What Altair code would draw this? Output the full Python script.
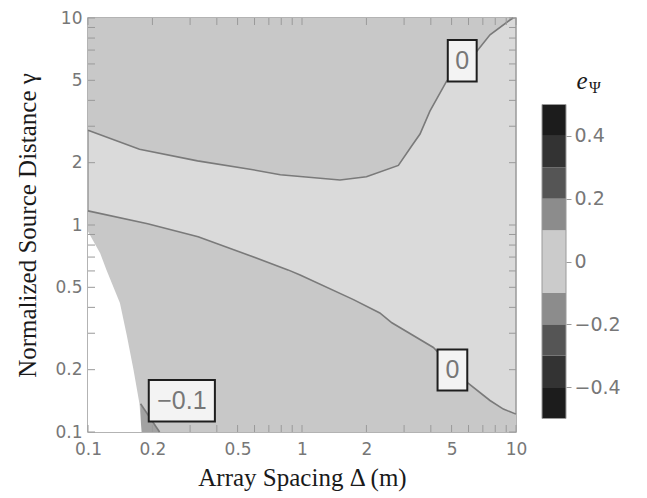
import altair as alt
import pandas as pd

# ---------------- data ----------------
x_ticks = [0.1, 0.2, 0.5, 1, 2, 5, 10]
y_ticks = [0.1, 0.2, 0.5, 1, 2, 5, 10]
minor_ticks = [0.1, 0.2, 0.3, 0.4, 0.5, 0.6, 0.7, 0.8, 0.9,
               1, 2, 3, 4, 5, 6, 7, 8, 9, 10]

# upper zero contour
upper0_x = [0.1, 0.174, 0.325, 0.571, 0.792, 1.505, 2.0, 2.82, 3.29, 3.56,
            3.96, 4.74, 6.55, 7.56, 9.37, 9.7]
upper0_y = [2.87, 2.32, 2.04, 1.86, 1.75, 1.65, 1.71, 1.94, 2.45, 2.75,
            3.55, 4.95, 6.89, 8.29, 9.78, 10]

# lower zero contour
lower0_x = [0.1, 0.19, 0.327, 0.56, 0.86, 0.98, 1.74, 2.31, 2.63, 4.11,
            5.89, 7.56, 8.73, 10]
lower0_y = [1.17, 1.015, 0.878, 0.716, 0.607, 0.574, 0.436, 0.376, 0.337,
            0.256, 0.174, 0.142, 0.129, 0.122]

# edge of the empty (white) region
white_x = [0.1, 0.114, 0.122, 0.141, 0.152, 0.163, 0.174, 0.178]
white_y = [0.93, 0.73, 0.607, 0.42, 0.291, 0.201, 0.137, 0.1]

# -0.1 contour
neg01_x = [0.176, 0.216]
neg01_y = [0.137, 0.1]

# contour labels
label_text = ["0", "0", "\u22120.1"]
label_x = [5.61, 5.05, 0.2745]
label_y = [6.21, 0.1993, 0.1416]
label_x_lo = [4.80, 4.30, 0.1923]
label_x_hi = [6.55, 5.92, 0.3917]
label_y_lo = [4.93, 0.1585, 0.1125]
label_y_hi = [7.82, 0.2507, 0.1782]

# colour bar
cbar_lo = [-0.5, -0.4, -0.3, -0.2, -0.1, 0.1, 0.2, 0.3, 0.4]
cbar_hi = [-0.4, -0.3, -0.2, -0.1, 0.1, 0.2, 0.3, 0.4, 0.5]
cbar_colors = ["#1c1c1c", "#333333", "#555555", "#8c8c8c", "#cbcbcb",
               "#8c8c8c", "#555555", "#333333", "#1c1c1c"]
cbar_labels = [-0.4, -0.2, 0, 0.2, 0.4]
cbar_title = ["e", "\u03a8"]

# ---------------- styling ----------------
LIGHT = "#dadada"
MID = "#c8c8c8"
DARK = "#a2a2a2"
LINE = "#7a7a7a"
TICK = "#9a9a9a"
LABEL = "#777777"

xs = alt.Scale(type="log", domain=[0.1, 10], nice=False)
ys = alt.Scale(type="log", domain=[0.1, 10], nice=False)

x_axis = alt.Axis(title="Array Spacing \u0394 (m)", values=x_ticks, format="~g",
                  ticks=False, tickSize=0, domain=False, grid=False,
                  labelFont="DejaVu Sans", labelFontSize=17, labelColor=LABEL,
                  labelPadding=9, labelFlush=False, labelOverlap=False,
                  titleFont="Liberation Serif", titleFontSize=25,
                  titleFontWeight="normal", titleColor="#1a1a1a", titlePadding=8)
y_axis = alt.Axis(title="Normalized Source Distance \u03b3", values=y_ticks, format="~g",
                  ticks=False, tickSize=0, domain=False, grid=False,
                  labelFont="DejaVu Sans", labelFontSize=17, labelColor=LABEL,
                  labelPadding=6, labelFlush=False, labelOverlap=False,
                  titleFont="Liberation Serif", titleFontSize=25,
                  titleFontWeight="normal", titleColor="#1a1a1a", titlePadding=14)


def X(field):
    return alt.X(field, type="quantitative", scale=xs, axis=x_axis)


def Y(field):
    return alt.Y(field, type="quantitative", scale=ys, axis=y_axis)


def XD(v):
    return alt.X(datum=v, scale=xs, axis=x_axis)


def YD(v):
    return alt.Y(datum=v, scale=ys, axis=y_axis)


upper_df = pd.DataFrame({"x": upper0_x, "y": upper0_y})
lower_df = pd.DataFrame({"x": lower0_x, "y": lower0_y})
white_df = pd.DataFrame({"x": white_x, "y": white_y})
neg_df = pd.DataFrame({"x": neg01_x, "y": neg01_y})
lab_df = pd.DataFrame({"t": label_text, "x": label_x, "y": label_y,
                       "x0": label_x_lo, "x1": label_x_hi,
                       "y0": label_y_lo, "y1": label_y_hi})
tick_df = pd.DataFrame({"x": minor_ticks, "y": minor_ticks})

upper_area = alt.Chart(upper_df).mark_area(color=MID).encode(
    x=X("x"), y=Y("y"), y2=alt.datum(10))
lower_area = alt.Chart(lower_df).mark_area(color=MID).encode(
    x=X("x"), y=Y("y"), y2=alt.datum(0.1))
neg_area = alt.Chart(neg_df).mark_area(color=DARK).encode(
    x=X("x"), y=Y("y"), y2=alt.datum(0.1))
white_area = alt.Chart(white_df).mark_area(color="#ffffff").encode(
    x=X("x"), y=Y("y"), y2=alt.datum(0.1))

upper_line = alt.Chart(upper_df).mark_line(color=LINE, strokeWidth=1.6).encode(
    x=X("x"), y=Y("y"))
lower_line = alt.Chart(lower_df).mark_line(color=LINE, strokeWidth=1.6).encode(
    x=X("x"), y=Y("y"))
neg_line = alt.Chart(neg_df).mark_line(color=LINE, strokeWidth=1.6).encode(
    x=X("x"), y=Y("y"))

boxes = alt.Chart(lab_df).mark_rect(fill="#f3f3f3", stroke="#1e1e1e", strokeWidth=2).encode(
    x=X("x0"), x2="x1", y=Y("y0"), y2="y1")
texts = alt.Chart(lab_df).mark_text(font="Liberation Sans", fontSize=25, color=LABEL).encode(
    x=X("x"), y=Y("y"), text="t")

tick_bottom = alt.Chart(tick_df).mark_rule(color=TICK, strokeWidth=1, y2Offset=-7).encode(
    x=X("x"), y=YD(0.1), y2=alt.datum(0.1))
tick_top = alt.Chart(tick_df).mark_rule(color=TICK, strokeWidth=1, y2Offset=7).encode(
    x=X("x"), y=YD(10), y2=alt.datum(10))
tick_left = alt.Chart(tick_df).mark_rule(color=TICK, strokeWidth=1, x2Offset=7).encode(
    y=Y("y"), x=XD(0.1), x2=alt.datum(0.1))
tick_right = alt.Chart(tick_df).mark_rule(color=TICK, strokeWidth=1, x2Offset=-7).encode(
    y=Y("y"), x=XD(10), x2=alt.datum(10))

main = alt.layer(
    upper_area, lower_area, neg_area, white_area,
    upper_line, lower_line, neg_line,
    tick_bottom, tick_top, tick_left, tick_right,
    boxes, texts,
).properties(
    width=428, height=414,
    view=alt.ViewBackground(fill=LIGHT, stroke=TICK, strokeWidth=1.5),
)

# ---------------- colour bar ----------------
cb_scale = alt.Scale(domain=[-0.543, 0.7755], nice=False, zero=False)
cb_x = alt.X("k:N", axis=None, scale=alt.Scale(paddingInner=0, paddingOuter=0))
cb_axis = alt.Axis(orient="right", values=cbar_labels, format="~g", title="",
                   ticks=True, tickSize=5, tickColor=TICK, tickWidth=1,
                   domain=False, grid=False,
                   labelFont="DejaVu Sans", labelFontSize=19, labelColor=LABEL,
                   labelPadding=3, labelFlush=False, labelOverlap=False)

cb_df = pd.DataFrame({"lo": cbar_lo, "hi": cbar_hi, "col": cbar_colors, "k": "bar"})
cb_out_df = pd.DataFrame({"lo": [cbar_lo[0]], "hi": [cbar_hi[-1]], "k": ["bar"]})
cb_t1 = pd.DataFrame({"k": ["bar"], "t": [cbar_title[0]]})
cb_t2 = pd.DataFrame({"k": ["bar"], "t": [cbar_title[1]]})

cb_rect = alt.Chart(cb_df).mark_rect().encode(
    x=cb_x, y=alt.Y("lo:Q", scale=cb_scale, axis=cb_axis), y2="hi:Q",
    color=alt.Color("col:N", scale=None))
cb_outline = alt.Chart(cb_out_df).mark_rect(fillOpacity=0, stroke="#9a9a9a", strokeWidth=1).encode(
    x=cb_x, y=alt.Y("lo:Q", scale=cb_scale, axis=cb_axis), y2="hi:Q")
cb_e = alt.Chart(cb_t1).mark_text(font="Liberation Serif", fontStyle="italic", fontSize=25,
                                  color="#1a1a1a", align="center", baseline="alphabetic", dx=28).encode(
    x=cb_x, y=alt.Y(datum=0.548, scale=cb_scale, axis=cb_axis), text="t")
cb_psi = alt.Chart(cb_t2).mark_text(font="Liberation Serif", fontSize=16,
                                    color="#1a1a1a", align="center", baseline="alphabetic", dx=41, dy=4).encode(
    x=cb_x, y=alt.Y(datum=0.548, scale=cb_scale, axis=cb_axis), text="t")

cbar = alt.layer(cb_rect, cb_outline, cb_e, cb_psi).properties(
    width=24, height=414,
    view=alt.ViewBackground(strokeWidth=0, fill="transparent"),
)

chart = alt.hconcat(main, cbar, spacing=26, bounds="flush").properties(
    padding={"left": 7, "top": 0, "right": 5, "bottom": 5},
).configure_view(strokeWidth=0)

chart.save("out.html", embed_options={"renderer": "svg", "actions": False})
